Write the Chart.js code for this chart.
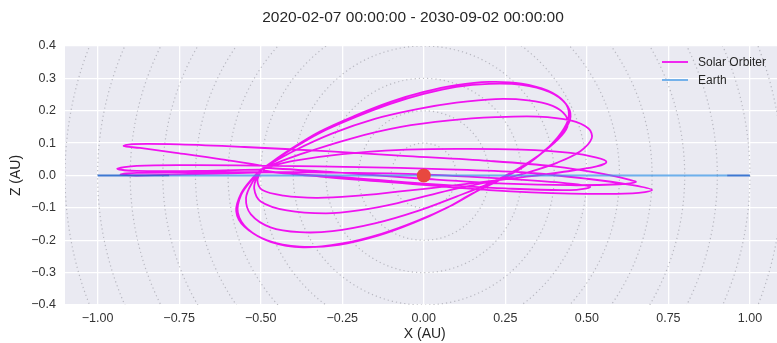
<!DOCTYPE html>
<html>
<head>
<meta charset="utf-8">
<script src="https://cdn.jsdelivr.net/npm/chart.js@4.4.1/dist/chart.umd.min.js"></script>
<style>
  html, body { margin: 0; padding: 0; background: #ffffff; }
  #wrap { width: 777px; height: 343px; }
</style>
</head>
<body>
<div id="wrap"><canvas id="orbit" width="777" height="343"></canvas></div>
<script>
// Time span shown in the heading
const spanStart = '2020-02-07 00:00:00';
const spanEnd = '2030-09-02 00:00:00';

// Axis ticks (AU)
const xTickValues = [-1.00, -0.75, -0.50, -0.25, 0.00, 0.25, 0.50, 0.75, 1.00];
const yTickValues = [-0.4, -0.3, -0.2, -0.1, 0.0, 0.1, 0.2, 0.3, 0.4];

// Dotted reference rings around the Sun (AU)
const guideRadii = [0.1, 0.2, 0.3, 0.4, 0.5, 0.6, 0.7, 0.8, 0.9, 1.0, 1.1];

// Solar Orbiter orbits projected on the X-Z plane, [x, z] in AU, one array per revolution
const orbitNearFlat = [[-0.49,0.010],[-0.70,0.004],[-0.88,0.000],[-0.93,0.003],[-0.88,0.008],[-0.65,0.010],[-0.35,0.010],[-0.05,0.005],[0.25,-0.010],[0.42,-0.022],[0.51,-0.035],[0.45,-0.045],[0.25,-0.040],[0.00,-0.025],[-0.25,-0.005],[-0.49,0.012]];
const orbitLowA = [[-0.49,0.018],[-0.70,0.014],[-0.88,0.014],[-0.94,0.021],[-0.88,0.030],[-0.70,0.032],[-0.45,0.030],[-0.20,0.026],[0.05,0.020],[0.30,0.010],[0.50,-0.010],[0.64,-0.030],[0.70,-0.045],[0.64,-0.055],[0.45,-0.056],[0.20,-0.045],[-0.05,-0.025],[-0.30,-0.005],[-0.49,0.016]];
const orbitLowB = [[-0.49,0.028],[-0.62,0.050],[-0.76,0.070],[-0.87,0.085],[-0.92,0.091],[-0.89,0.097],[-0.75,0.096],[-0.55,0.088],[-0.30,0.075],[-0.05,0.060],[0.20,0.045],[0.40,0.028],[0.55,0.005],[0.63,-0.013],[0.65,-0.020],[0.60,-0.027],[0.45,-0.030],[0.25,-0.025],[0.00,-0.010],[-0.25,0.008],[-0.49,0.024]];
const orbitTilt1 = [[-0.494,0.022],[-0.40,0.045],[-0.25,0.066],[-0.07,0.079],[0.10,0.082],[0.30,0.080],[0.45,0.070],[0.53,0.055],[0.56,0.042],[0.53,0.028],[0.42,0.010],[0.28,-0.008],[0.10,-0.030],[-0.08,-0.050],[-0.22,-0.064],[-0.33,-0.069],[-0.43,-0.062],[-0.495,-0.045],[-0.51,-0.015],[-0.494,0.022]];
const orbitTilt2 = [[-0.494,0.022],[-0.38,0.065],[-0.22,0.115],[-0.07,0.150],[0.08,0.170],[0.22,0.180],[0.35,0.182],[0.45,0.170],[0.505,0.145],[0.515,0.115],[0.48,0.075],[0.41,0.040],[0.32,0.010],[0.22,-0.015],[0.08,-0.045],[-0.08,-0.085],[-0.20,-0.108],[-0.30,-0.117],[-0.42,-0.108],[-0.50,-0.080],[-0.52,-0.040],[-0.51,0.000],[-0.494,0.022]];
const orbitTilt3 = [[-0.494,0.022],[-0.40,0.075],[-0.28,0.130],[-0.15,0.175],[-0.02,0.205],[0.10,0.225],[0.22,0.236],[0.32,0.232],[0.395,0.215],[0.435,0.185],[0.44,0.150],[0.41,0.110],[0.35,0.060],[0.28,0.015],[0.20,-0.025],[0.10,-0.065],[-0.02,-0.110],[-0.15,-0.148],[-0.28,-0.172],[-0.38,-0.175],[-0.47,-0.160],[-0.53,-0.120],[-0.545,-0.070],[-0.525,-0.020],[-0.494,0.022]];
const orbitTilt4 = [[-0.494,0.022],[-0.41,0.080],[-0.32,0.135],[-0.21,0.185],[-0.10,0.228],[0.00,0.258],[0.10,0.279],[0.20,0.289],[0.30,0.284],[0.38,0.262],[0.43,0.228],[0.445,0.190],[0.43,0.145],[0.385,0.090],[0.31,0.030],[0.235,-0.012],[0.16,-0.050],[0.08,-0.095],[-0.02,-0.140],[-0.13,-0.180],[-0.25,-0.210],[-0.37,-0.222],[-0.47,-0.205],[-0.54,-0.165],[-0.57,-0.115],[-0.56,-0.060],[-0.525,-0.010],[-0.494,0.022]];
const orbitTilt5 = [[-0.494,0.022],[-0.41,0.078],[-0.32,0.131],[-0.21,0.180],[-0.10,0.222],[0.00,0.252],[0.10,0.274],[0.20,0.283],[0.30,0.280],[0.385,0.258],[0.435,0.222],[0.45,0.182],[0.43,0.138],[0.38,0.085],[0.305,0.026],[0.23,-0.015],[0.15,-0.055],[0.07,-0.100],[-0.03,-0.146],[-0.14,-0.186],[-0.26,-0.214],[-0.38,-0.220],[-0.48,-0.200],[-0.55,-0.158],[-0.575,-0.110],[-0.56,-0.055],[-0.525,-0.008],[-0.494,0.022]];

// Earth's orbit seen edge-on, and the Sun
const earthX = [-1.00, -0.78, 0.93, 1.00];
const earthZ = [0.000, 0.000, 0.000, 0.000];
const sunX = [0.0];
const sunZ = [0.0];

// Legend entries, top to bottom
const legendLabels = ['Solar Orbiter', 'Earth'];

const orbiterTrack = [orbitNearFlat, orbitLowA, orbitLowB, orbitTilt1, orbitTilt2, orbitTilt3, orbitTilt4, orbitTilt5]
  .flat()
  .map(([x, z]) => ({ x, y: z }));

const FONT = "'Liberation Sans', Arial, sans-serif";
const TEXT = '#262626';
const fmt = (v, d) => (v < 0 ? '\u2212' : '') + Math.abs(v).toFixed(d);

Chart.defaults.font.family = FONT;

const zeroPadding = s => { s.paddingLeft = 0; s.paddingRight = 0; s.paddingTop = 0; s.paddingBottom = 0; };

const panelPlugin = {
  id: 'panel',
  beforeDraw(chart) {
    const { ctx, chartArea: a } = chart;
    ctx.save();
    ctx.fillStyle = '#ffffff';
    ctx.fillRect(0, 0, chart.width, chart.height);
    ctx.fillStyle = '#eaeaf2';
    ctx.fillRect(a.left, a.top, a.right - a.left, a.bottom - a.top);
    ctx.restore();
  },
  beforeDatasetsDraw(chart) {
    const { ctx, chartArea: a, scales: { x, y } } = chart;
    const cx = x.getPixelForValue(0), cy = y.getPixelForValue(0);
    ctx.save();
    ctx.beginPath();
    ctx.rect(a.left, a.top, a.right - a.left, a.bottom - a.top);
    ctx.clip();
    ctx.strokeStyle = 'rgba(150,150,160,0.6)';
    ctx.lineWidth = 1.2;
    ctx.setLineDash([1.2, 3]);
    guideRadii.forEach(r => {
      const rx = x.getPixelForValue(r) - cx;
      const ry = cy - y.getPixelForValue(r);
      ctx.beginPath();
      ctx.ellipse(cx, cy, rx, ry, 0, 0, Math.PI * 2);
      ctx.stroke();
    });
    ctx.restore();
  },
  afterDraw(chart) {
    const { ctx, scales: { x } } = chart;
    ctx.save();
    ctx.fillStyle = TEXT;
    ctx.textBaseline = 'middle';
    // heading
    ctx.font = `15.5px ${FONT}`;
    ctx.textAlign = 'center';
    ctx.fillText(`${spanStart} - ${spanEnd}`, 413, 18);
    // horizontal axis title, centred on the full panel
    ctx.font = `14px ${FONT}`;
    ctx.fillText('X (AU)', x.getPixelForValue(0) + 1, 334);
    // legend
    ctx.font = `12px ${FONT}`;
    ctx.textAlign = 'left';
    legendLabels.forEach((label, i) => {
      const d = chart.data.datasets.find(ds => ds.label === label);
      const yy = 62 + i * 18;
      ctx.strokeStyle = d.legendColor || d.borderColor;
      ctx.lineWidth = 1.8;
      ctx.beginPath();
      ctx.moveTo(662, yy);
      ctx.lineTo(688, yy);
      ctx.stroke();
      ctx.fillText(label, 698, yy + 1);
    });
    ctx.restore();
  }
};

const earthLight = 'rgba(60,150,230,0.75)';
const earthDark = 'rgba(40,105,205,0.9)';

new Chart(document.getElementById('orbit'), {
  type: 'scatter',
  data: {
    datasets: [
      {
        label: 'Sun',
        data: sunX.map((x, i) => ({ x, y: sunZ[i] })),
        pointRadius: 7,
        pointBackgroundColor: '#e8483f',
        pointBorderWidth: 0,
        showLine: false,
        order: 0
      },
      {
        label: 'Earth',
        data: earthX.map((x, i) => ({ x, y: earthZ[i] })),
        showLine: true,
        borderColor: earthLight,
        legendColor: 'rgb(103,171,233)',
        borderWidth: 2,
        pointRadius: 0,
        segment: {
          borderColor: c => (c.p0DataIndex === 0 || c.p1DataIndex === earthX.length - 1) ? earthDark : earthLight
        },
        order: 1
      },
      {
        label: 'Solar Orbiter',
        data: orbiterTrack,
        showLine: true,
        borderColor: '#f012f0',
        borderWidth: 1.8,
        pointRadius: 0,
        tension: 0.35,
        order: 2
      }
    ]
  },
  options: {
    responsive: false,
    animation: false,
    devicePixelRatio: 1,
    events: [],
    layout: { autoPadding: false, padding: { top: 46, right: 0, bottom: 0, left: 0 } },
    plugins: { legend: { display: false }, title: { display: false }, tooltip: { enabled: false } },
    scales: {
      x: {
        type: 'linear',
        min: -1.1,
        max: 1.083,
        afterBuildTicks: s => { s.ticks = xTickValues.map(v => ({ value: v })); },
        afterFit: s => { s.height = 38; zeroPadding(s); },
        grid: { color: '#ffffff', lineWidth: 1.3, drawTicks: false },
        border: { display: false },
        ticks: {
          padding: 6, color: '#333333', autoSkip: false, maxRotation: 0,
          font: { family: FONT, size: 12.5 },
          callback: v => fmt(v, 2)
        },
        title: { display: false }
      },
      y: {
        type: 'linear',
        min: -0.4,
        max: 0.4,
        afterBuildTicks: s => { s.ticks = yTickValues.map(v => ({ value: v })); },
        afterFit: s => { s.width = 65; zeroPadding(s); },
        grid: { color: '#ffffff', lineWidth: 1.3, drawTicks: false },
        border: { display: false },
        ticks: {
          padding: 9, color: '#333333', autoSkip: false,
          font: { family: FONT, size: 12.5 },
          callback: v => fmt(v, 1)
        },
        title: {
          display: true, text: 'Z (AU)', color: TEXT,
          font: { family: FONT, size: 14 }, padding: 8
        }
      }
    }
  },
  plugins: [panelPlugin]
});
</script>
</body>
</html>
